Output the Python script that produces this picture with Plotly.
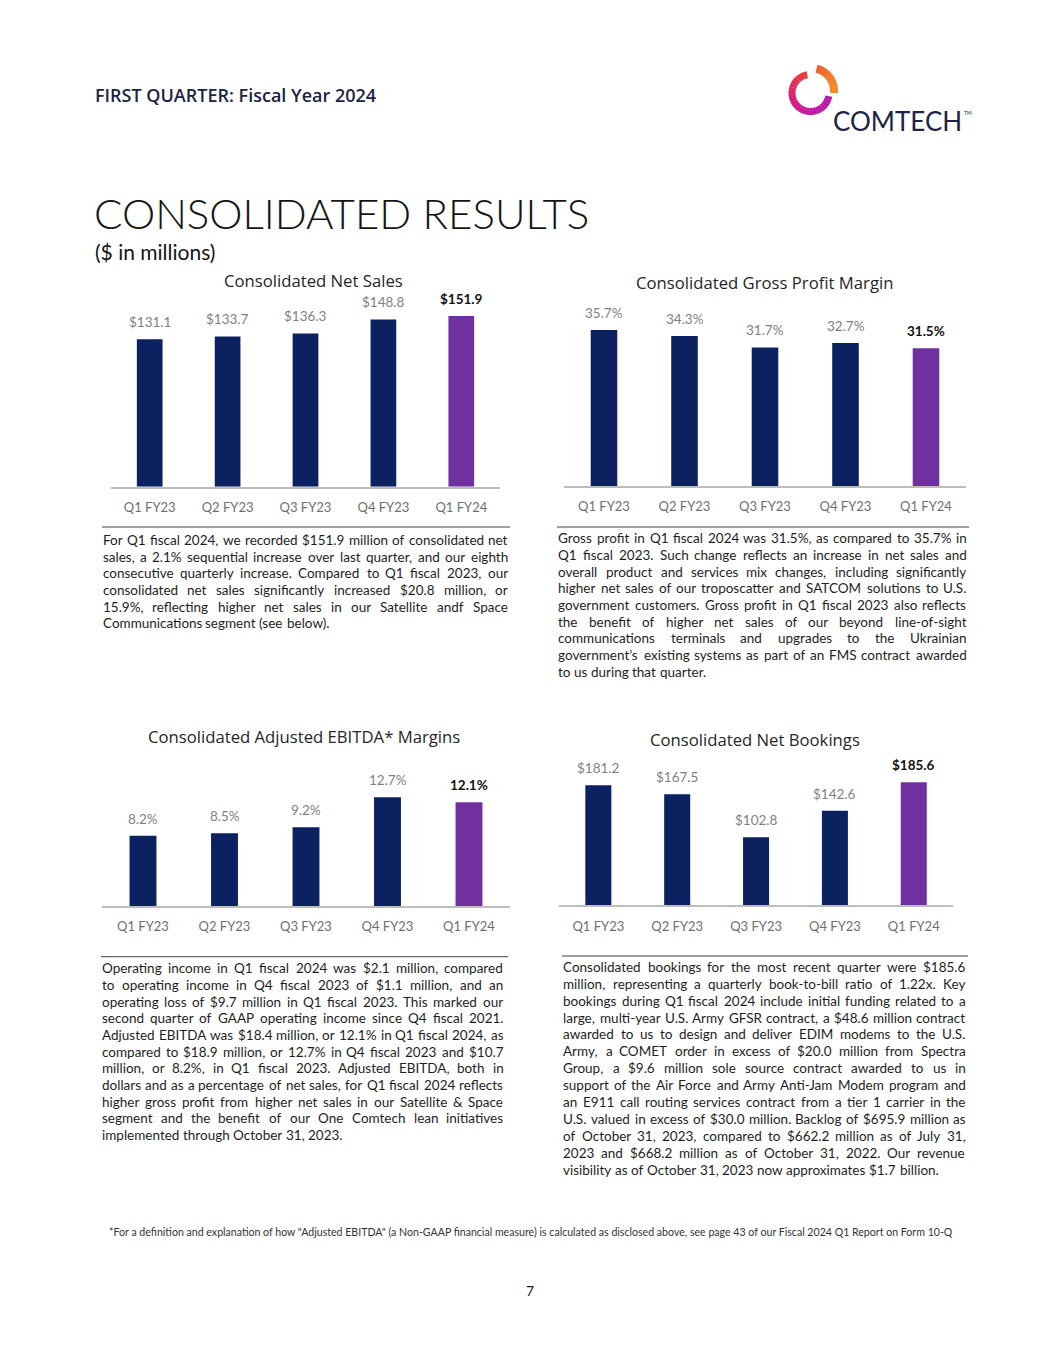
import os
import struct
import numpy as np
import plotly.graph_objects as go

# Browser page has an 8px body margin: size the figure to fit inside it
PAGE_W, PAGE_H = 1055, 1365
OFF = 8
FW, FH = PAGE_W - 2 * OFF, PAGE_H - 2 * OFF

# ---------------- data ----------------
quarters = ["Q1 FY23", "Q2 FY23", "Q3 FY23", "Q4 FY23", "Q1 FY24"]
net_sales = [131.1, 133.7, 136.3, 148.8, 151.9]
gross_margin = [35.7, 34.3, 31.7, 32.7, 31.5]
ebitda_margin = [8.2, 8.5, 9.2, 12.7, 12.1]
net_bookings = [181.2, 167.5, 102.8, 142.6, 185.6]

NAVY = "#0c2160"
PURPLE = "#7030a0"
LABEL_GRAY = "#7f7f7f"
NUM_FONT = "Lato, 'Open Sans', sans-serif"
TXT_FONT = "'Open Sans', Lato, sans-serif"
BODY_FONT = NUM_FONT


def px(x):
    return (x - OFF) / FW


def py(y):
    return 1 - (y - OFF) / FH


# ---------------- font metrics for justified text ----------------
def find_font(patterns):
    dirs = ["/usr/share/fonts", "/usr/local/share/fonts",
            os.path.expanduser("~/.fonts"), os.path.expanduser("~/.local/share/fonts")]
    cands = []
    for d in dirs:
        if os.path.isdir(d):
            for root, _, files in os.walk(d):
                for f in files:
                    if f.lower().endswith((".ttf", ".otf")):
                        cands.append(os.path.join(root, f))
    for pat in patterns:
        for c in cands:
            if os.path.basename(c).lower().startswith(pat):
                return c
    return None


def load_width_fn(path):
    data = open(path, "rb").read()
    num_tables = struct.unpack(">H", data[4:6])[0]
    tables = {}
    for i in range(num_tables):
        tag, _cs, off, ln = struct.unpack(">4sIII", data[12 + 16 * i:28 + 16 * i])
        tables[tag.decode("latin1")] = (off, ln)
    head = tables["head"][0]
    upem = struct.unpack(">H", data[head + 18:head + 20])[0]
    hhea = tables["hhea"][0]
    nhm = struct.unpack(">H", data[hhea + 34:hhea + 36])[0]
    hmtx = tables["hmtx"][0]
    adv = [struct.unpack(">H", data[hmtx + 4 * i:hmtx + 4 * i + 2])[0] for i in range(nhm)]
    cmap = tables["cmap"][0]
    nsub = struct.unpack(">H", data[cmap + 2:cmap + 4])[0]
    sub = None
    for i in range(nsub):
        pid, eid, off = struct.unpack(">HHI", data[cmap + 4 + 8 * i:cmap + 12 + 8 * i])
        fmt = struct.unpack(">H", data[cmap + off:cmap + off + 2])[0]
        if fmt == 4 and ((pid == 3 and eid == 1) or pid == 0):
            sub = cmap + off
            break
    o = sub
    segx2 = struct.unpack(">H", data[o + 6:o + 8])[0]
    seg = segx2 // 2
    ends = struct.unpack(f">{seg}H", data[o + 14:o + 14 + segx2])
    starts = struct.unpack(f">{seg}H", data[o + 16 + segx2:o + 16 + 2 * segx2])
    deltas = struct.unpack(f">{seg}h", data[o + 16 + 2 * segx2:o + 16 + 3 * segx2])
    ro_pos = o + 16 + 3 * segx2
    ros = struct.unpack(f">{seg}H", data[ro_pos:ro_pos + segx2])

    def gid(ch):
        c = ord(ch)
        for k in range(seg):
            if ends[k] >= c:
                if starts[k] > c:
                    return 0
                if ros[k] == 0:
                    return (c + deltas[k]) & 0xFFFF
                addr = ro_pos + 2 * k + ros[k] + 2 * (c - starts[k])
                g = struct.unpack(">H", data[addr:addr + 2])[0]
                return (g + deltas[k]) & 0xFFFF if g else 0
        return 0

    cache = {}

    def w(ch):
        if ch not in cache:
            g = gid(ch)
            cache[ch] = (adv[g] if g < nhm else adv[-1]) / upem
        return cache[ch]
    return w


FALLBACK = {" ": 0.193, "a": 0.49, "b": 0.54, "c": 0.44, "d": 0.54, "e": 0.5, "f": 0.31,
            "g": 0.49, "h": 0.54, "i": 0.23, "j": 0.23, "k": 0.48, "l": 0.23, "m": 0.81,
            "n": 0.54, "o": 0.54, "p": 0.53, "q": 0.54, "r": 0.36, "s": 0.41, "t": 0.33,
            "u": 0.54, "v": 0.48, "w": 0.72, "x": 0.47, "y": 0.48, "z": 0.44,
            ".": 0.2, ",": 0.2, "-": 0.32, "(": 0.28, ")": 0.28, "$": 0.58, "%": 0.76,
            "\u2019": 0.2, "'": 0.2, "&": 0.68, ":": 0.23, "*": 0.4, "/": 0.37}


def fallback_w(ch):
    if ch in FALLBACK:
        return FALLBACK[ch]
    if ch.isdigit():
        return 0.58
    if ch.isupper():
        return 0.64
    return 0.5


try:
    _fp = find_font(["lato-regular.", "lato-reg"])
    text_w = load_width_fn(_fp) if _fp else fallback_w
except Exception:
    text_w = fallback_w


def word_width(word, size):
    return sum(text_w(ch) for ch in word) * size


# ---------------- charts ----------------
charts = [
    dict(title="Consolidated Net Sales", values=net_sales, fmt="${:.1f}",
         xdom=(110.75, 500.25), base=486.7, ppu=1.124, rng=200, title_xy=(313, 280)),
    dict(title="Consolidated Gross Profit Margin", values=gross_margin, fmt="{:.1f}%",
         xdom=(563.75, 966.25), base=486.0, ppu=4.37, rng=50, title_xy=(764, 283)),
    dict(title="Consolidated Adjusted EBITDA* Margins", values=ebitda_margin, fmt="{:.1f}%",
         xdom=(102.25, 509.75), base=906.0, ppu=8.57, rng=20, title_xy=(304, 736)),
    dict(title="Consolidated Net Bookings", values=net_bookings, fmt="${:.1f}",
         xdom=(558.9, 953.2), base=905.3, ppu=0.663, rng=250, title_xy=(755, 739)),
]

fig = go.Figure()
annotations = []
shapes = []
layout_axes = {}
bar_colors = [NAVY] * 4 + [PURPLE]

for i, c in enumerate(charts, start=1):
    xa = "x" if i == 1 else f"x{i}"
    ya = "y" if i == 1 else f"y{i}"
    fig.add_trace(go.Bar(
        x=quarters, y=c["values"], xaxis=xa, yaxis=ya,
        marker=dict(color=bar_colors, line=dict(width=0)),
        width=0.33, hoverinfo="skip", showlegend=False,
    ))
    top = c["base"] - c["rng"] * c["ppu"]
    xkey = "xaxis" if i == 1 else f"xaxis{i}"
    ykey = "yaxis" if i == 1 else f"yaxis{i}"
    layout_axes[xkey] = dict(
        domain=[px(c["xdom"][0]), px(c["xdom"][1])], anchor=ya,
        type="category", range=[-0.5, 4.5], showgrid=False, zeroline=False,
        showline=True, linecolor="#bdbdbd", linewidth=1.5, ticks="",
        tickfont=dict(family=NUM_FONT, size=13, color="#6f6f6f"),
        ticklabelstandoff=8, fixedrange=True,
    )
    layout_axes[ykey] = dict(
        domain=[py(c["base"]), py(top)], anchor=xa, range=[0, c["rng"]],
        visible=False, fixedrange=True,
    )
    for j, (q, v) in enumerate(zip(quarters, c["values"])):
        last = j == len(quarters) - 1
        txt = c["fmt"].format(v)
        annotations.append(dict(
            xref=xa, yref=ya, x=q, y=v, yshift=17, showarrow=False,
            text=f"<b>{txt}</b>" if last else txt, yanchor="middle",
            font=dict(family=NUM_FONT, size=13.5, color="#111111" if last else LABEL_GRAY),
        ))
    annotations.append(dict(
        xref="paper", yref="paper", x=px(c["title_xy"][0]), y=py(c["title_xy"][1]),
        text=c["title"], showarrow=False, xanchor="center", yanchor="middle",
        font=dict(family=TXT_FONT, size=16.7, color="#262626"),
    ))

# ---------------- text blocks ----------------
blocks = [
    dict(x0=102.5, x1=508.0, y0=540.0, dy=16.67, rule=(102, 510, 527), lines=[
        "For Q1 fiscal 2024, we recorded $151.9 million of consolidated net",
        "sales, a 2.1% sequential increase over last quarter, and our eighth",
        "consecutive quarterly increase. Compared to Q1 fiscal 2023, our",
        "consolidated net sales significantly increased $20.8 million, or",
        "15.9%, reflecting higher net sales in our Satellite andf Space",
        "Communications segment (see below).",
    ]),
    dict(x0=558.3, x1=966.7, y0=538.3, dy=16.67, rule=(557, 969, 527), lines=[
        "Gross profit in Q1 fiscal 2024 was 31.5%, as compared to 35.7% in",
        "Q1 fiscal 2023. Such change reflects an increase in net sales and",
        "overall product and services mix changes, including significantly",
        "higher net sales of our troposcatter and SATCOM solutions to U.S.",
        "government customers.  Gross profit in Q1 fiscal 2023 also reflects",
        "the benefit of higher net sales of our beyond line-of-sight",
        "communications terminals and upgrades to the Ukrainian",
        "government\u2019s existing systems as part of an FMS contract awarded",
        "to us during that quarter.",
    ]),
    dict(x0=101.7, x1=503.3, y0=968.3, dy=16.67, rule=(101, 508, 956.7), lines=[
        "Operating income in Q1 fiscal 2024 was $2.1 million, compared",
        "to operating income in Q4 fiscal 2023 of $1.1 million, and an",
        "operating loss of $9.7 million in Q1 fiscal 2023. This marked our",
        "second quarter of GAAP operating income since Q4 fiscal 2021.",
        "Adjusted EBITDA was $18.4 million, or 12.1% in Q1 fiscal 2024, as",
        "compared to $18.9 million, or 12.7% in Q4 fiscal 2023 and $10.7",
        "million, or 8.2%, in Q1 fiscal 2023. Adjusted EBITDA, both in",
        "dollars and as a percentage of net sales, for Q1 fiscal 2024 reflects",
        "higher gross profit from higher net sales in our Satellite & Space",
        "segment and the benefit of our One Comtech lean initiatives",
        "implemented through October 31, 2023.",
    ]),
    dict(x0=563.3, x1=965.7, y0=966.7, dy=16.94, rule=(562, 968, 956), lines=[
        "Consolidated bookings for the most recent quarter were $185.6",
        "million, representing a quarterly book-to-bill ratio of 1.22x. Key",
        "bookings during Q1 fiscal 2024 include initial funding related to a",
        "large, multi-year U.S. Army GFSR contract, a $48.6 million contract",
        "awarded to us to design and deliver EDIM modems to the U.S.",
        "Army, a COMET order in excess of $20.0 million from Spectra",
        "Group, a $9.6 million sole source contract awarded to us in",
        "support of the Air Force and Army Anti-Jam Modem program and",
        "an E911 call routing services contract from a tier 1 carrier in the",
        "U.S. valued in excess of $30.0 million. Backlog of $695.9 million as",
        "of October 31, 2023, compared to $662.2 million as of July 31,",
        "2023 and $668.2 million as of October 31, 2022. Our revenue",
        "visibility as of October 31, 2023 now approximates $1.7 billion.",
    ]),
]

# one body font size so that every justified line keeps a minimum word gap
fit_sizes = []
for b in blocks:
    colw = b["x1"] - b["x0"]
    for line in b["lines"][:-1]:
        words = line.split()
        natural = sum(word_width(wd, 1.0) for wd in words) + 0.8 * text_w(" ") * (len(words) - 1)
        fit_sizes.append(colw / natural)
BODY_SIZE = min(13.5, min(fit_sizes))

for b in blocks:
    x0, x1, yr = b["rule"]
    shapes.append(dict(type="line", xref="paper", yref="paper",
                       x0=px(x0), x1=px(x1), y0=py(yr), y1=py(yr),
                       line=dict(color="#404040", width=1)))
    colw = b["x1"] - b["x0"]
    nlines = len(b["lines"])
    for k, line in enumerate(b["lines"]):
        yy = py(b["y0"] + k * b["dy"])
        words = line.split()
        ws = [word_width(wd, BODY_SIZE) for wd in words]
        if k == nlines - 1 or len(words) < 2:
            gap = text_w(" ") * BODY_SIZE
        else:
            gap = (colw - sum(ws)) / (len(words) - 1)
        xpos = b["x0"]
        for m, (wd, wdw) in enumerate(zip(words, ws)):
            annotations.append(dict(
                xref="paper", yref="paper", x=px(xpos), y=yy,
                text=wd, showarrow=False, borderpad=0, borderwidth=0,
                xanchor="left", yanchor="middle",
                font=dict(family=BODY_FONT, size=BODY_SIZE, color="#1e1e1e"),
            ))
            xpos += wdw + gap

# ---------------- header / footer ----------------
annotations += [
    dict(xref="paper", yref="paper", x=px(93), y=py(95), text="FIRST QUARTER: Fiscal Year 2024",
         showarrow=False, xanchor="left", yanchor="middle",
         font=dict(family=TXT_FONT, size=18, color="#1c2346", weight=600)),
    dict(xref="paper", yref="paper", x=px(92), y=py(212.5), text="CONSOLIDATED RESULTS",
         showarrow=False, xanchor="left", yanchor="middle",
         font=dict(family=NUM_FONT, size=42, color="#141414", weight=300)),
    dict(xref="paper", yref="paper", x=px(93), y=py(251.5), text="($ in millions)",
         showarrow=False, xanchor="left", yanchor="middle",
         font=dict(family=NUM_FONT, size=21, color="#141414")),
    dict(xref="paper", yref="paper", x=px(530), y=py(1290), text="7",
         showarrow=False, xanchor="center", yanchor="middle",
         font=dict(family=NUM_FONT, size=14, color="#1e1e1e")),
    dict(xref="paper", yref="paper", x=px(107), y=py(1232),
         text='*For a definition and explanation of how "Adjusted EBITDA" (a Non-GAAP financial measure) '
              'is calculated as disclosed above, see page 43 of our Fiscal 2024 Q1 Report on Form 10-Q',
         showarrow=False, xanchor="left", yanchor="middle",
         font=dict(family=NUM_FONT, size=10.6, color="#333333")),
    dict(xref="paper", yref="paper", x=px(831), y=py(121), text="COMTECH",
         showarrow=False, xanchor="left", yanchor="middle",
         font=dict(family=NUM_FONT, size=26, color="#1c2346")),
    dict(xref="paper", yref="paper", x=px(962), y=py(113), text="TM",
         showarrow=False, xanchor="left", yanchor="middle",
         font=dict(family=NUM_FONT, size=5, color="#1c2346")),
]


# ---------------- logo (decorative ring) ----------------
def hex2rgb(h):
    h = h.lstrip("#")
    return np.array([int(h[i:i + 2], 16) for i in (0, 2, 4)], dtype=float)


def lerp_color(stops, t):
    n = len(stops) - 1
    s = min(int(t * n), n - 1)
    f = t * n - s
    c = hex2rgb(stops[s]) * (1 - f) + hex2rgb(stops[s + 1]) * f
    return "rgb({},{},{})".format(*[int(round(v)) for v in c])


def arc_path(cx, cy, r_in, r_out, a0, a1, n=8):
    angs = np.radians(np.linspace(a0, a1, n))
    outer = [(cx + r_out * np.cos(a), cy - r_out * np.sin(a)) for a in angs]
    inner = [(cx + r_in * np.cos(a), cy - r_in * np.sin(a)) for a in angs[::-1]]
    pts = outer + inner
    return "M " + " L ".join(f"{px(x):.5f},{py(y):.5f}" for x, y in pts) + " Z"


def ring(cx, cy, r_in, r_out, a0, a1, stops, nseg):
    edges = np.linspace(a0, a1, nseg + 1)
    sgn = np.sign(a1 - a0)
    for s in range(nseg):
        col = lerp_color(stops, (s + 0.5) / nseg)
        ext = 0.6 if s < nseg - 1 else 0.0
        shapes.append(dict(type="path", xref="paper", yref="paper",
                           path=arc_path(cx, cy, r_in, r_out, edges[s], edges[s + 1] + ext * sgn),
                           fillcolor=col, line=dict(width=0), layer="above"))


ring(810.5, 93, 15, 22, 100, 350, ["#ec4134", "#dc1f72", "#c218a6", "#b81aa8"], 24)
ring(811, 91, 19, 27, 76, -5, ["#ee5a2b", "#f47a2a", "#f68b2b"], 10)

fig.update_layout(
    width=FW, height=FH, margin=dict(l=0, r=0, t=0, b=0),
    paper_bgcolor="white", plot_bgcolor="white", showlegend=False,
    annotations=annotations, shapes=shapes,
    font=dict(family=NUM_FONT),
    **layout_axes,
)

fig.write_html("out.html")
